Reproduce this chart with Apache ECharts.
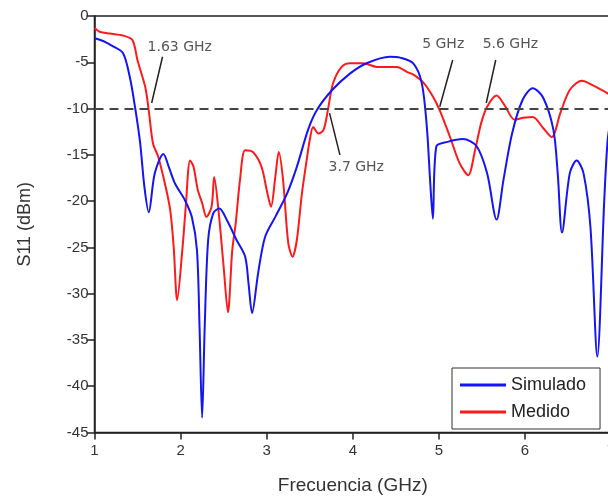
<!DOCTYPE html>
<html>
<head>
<meta charset="utf-8">
<script src="https://cdn.jsdelivr.net/npm/echarts@6/dist/echarts.min.js"></script>
<style>
  html, body { margin: 0; padding: 0; background: #fff; }
  #chart { width: 608px; height: 496px; }
</style>
</head>
<body>
<div id="chart"></div>
<script>
// Return loss S11 of the antenna: simulated vs measured, frequency in GHz
const simulado = [
  [1.0,-2.4],[1.1,-2.7],[1.2,-3.2],[1.33,-4.0],[1.41,-6.6],[1.47,-9.8],[1.53,-13.7],
  [1.58,-18.5],[1.63,-21.2],[1.70,-17.0],[1.80,-14.9],[1.87,-16.5],[1.935,-18.1],
  [2.05,-19.9],[2.13,-21.7],[2.19,-25.3],[2.22,-33.6],[2.25,-43.4],[2.28,-33.6],
  [2.32,-24.2],[2.38,-21.3],[2.45,-20.8],[2.54,-22.1],[2.65,-24.2],[2.75,-26.0],
  [2.79,-29.0],[2.83,-32.1],[2.90,-27.8],[2.98,-23.9],[3.10,-21.7],[3.24,-19.1],
  [3.35,-16.3],[3.48,-12.3],[3.58,-10.2],[3.76,-8.0],[3.97,-6.2],[4.16,-5.1],
  [4.43,-4.4],[4.55,-4.5],[4.70,-5.1],[4.80,-7.2],[4.86,-12.0],[4.90,-18.1],
  [4.93,-21.9],[4.97,-14.1],[5.10,-13.6],[5.28,-13.3],[5.44,-14.1],[5.56,-17.0],
  [5.67,-22.0],[5.75,-17.7],[5.85,-12.7],[5.97,-9.1],[6.09,-7.8],[6.21,-8.8],
  [6.33,-12.3],[6.38,-17.0],[6.43,-23.4],[6.52,-17.0],[6.60,-15.6],[6.68,-17.0],
  [6.76,-22.8],[6.84,-36.8],[6.92,-20.0],[6.96,-13.4],[7.0,-11.0]
];

const medido = [
  [1.0,-1.3],[1.06,-1.7],[1.18,-1.9],[1.33,-2.1],[1.44,-2.6],[1.50,-4.8],[1.59,-7.7],
  [1.63,-10.2],[1.68,-13.8],[1.74,-15.2],[1.82,-18.2],[1.88,-21.0],[1.92,-25.0],
  [1.96,-30.7],[2.02,-25.3],[2.06,-20.6],[2.11,-15.6],[2.15,-16.3],[2.20,-18.8],
  [2.25,-20.2],[2.30,-21.7],[2.36,-20.6],[2.39,-17.4],[2.44,-21.0],[2.50,-27.1],
  [2.55,-32.0],[2.60,-25.3],[2.64,-22.4],[2.69,-17.7],[2.75,-14.5],[2.84,-14.7],
  [2.94,-16.3],[3.00,-18.8],[3.05,-20.6],[3.10,-17.4],[3.14,-14.7],[3.19,-17.7],
  [3.25,-24.5],[3.30,-26.0],[3.35,-24.2],[3.41,-19.1],[3.47,-15.2],[3.50,-13.4],
  [3.54,-12.0],[3.60,-12.7],[3.66,-12.3],[3.71,-10.2],[3.77,-7.3],[3.87,-5.5],
  [3.97,-5.1],[4.12,-5.1],[4.28,-5.5],[4.51,-5.5],[4.64,-6.1],[4.70,-6.3],
  [4.82,-7.2],[4.93,-8.7],[5.01,-10.2],[5.13,-13.1],[5.24,-15.9],[5.34,-17.2],
  [5.42,-14.5],[5.49,-11.6],[5.56,-9.8],[5.67,-8.6],[5.76,-9.6],[5.88,-11.2],
  [5.98,-11.0],[6.09,-10.9],[6.21,-12.1],[6.31,-13.1],[6.41,-10.5],[6.52,-8.0],
  [6.66,-7.0],[6.79,-7.5],[6.95,-8.3],[7.0,-8.6]
];

const umbral = -10;

// Annotated -10 dB crossings: text anchor and leader line ends, in axis units
const anotaciones = [
  { texto: '1.63 GHz', texto_xy: [1.99, -3.35], linea: [[1.664, -9.4], [1.79, -4.4]] },
  { texto: '3.7 GHz',  texto_xy: [4.04, -16.4], linea: [[3.73, -10.5], [3.85, -15.0]] },
  { texto: '5 GHz',    texto_xy: [5.05, -3.1],  linea: [[5.01, -9.8], [5.16, -4.75]] },
  { texto: '5.6 GHz',  texto_xy: [5.83, -3.1],  linea: [[5.55, -9.4], [5.66, -4.75]] }
];

const xTicks = { min: 1, max: 7, interval: 1 };
const yTicks = { min: -45, max: 0, interval: 5 };

const chart = echarts.init(document.getElementById('chart'), null, { renderer: 'canvas' });

const axisFont = { fontFamily: 'Liberation Sans, Arial, sans-serif', color: '#333' };

const series = [
  {
    name: 'Simulado', type: 'line', data: simulado, showSymbol: false, smooth: 0.3,
    lineStyle: { color: '#1414f5', width: 2 }, itemStyle: { color: '#1414f5' }, z: 3
  },
  {
    name: 'Medido', type: 'line', data: medido, showSymbol: false, smooth: 0.3,
    lineStyle: { color: '#ff1a1a', width: 2 }, itemStyle: { color: '#ff1a1a' }, z: 2,
    markLine: {
      silent: true, symbol: 'none', label: { show: false },
      lineStyle: { color: '#444', type: [9, 6], width: 2 },
      data: [{ yAxis: umbral }]
    }
  }
];

anotaciones.forEach((a) => {
  series.push({
    type: 'line', data: a.linea, showSymbol: false, silent: true,
    lineStyle: { color: '#222', width: 1.5 }, z: 4
  });
  series.push({
    type: 'scatter', data: [a.texto_xy], symbolSize: 0, silent: true, z: 5,
    label: {
      show: true, position: 'inside', formatter: a.texto,
      fontFamily: 'DejaVu Sans, Verdana, sans-serif', fontSize: 14, color: '#2a2a2a'
    }
  });
});

chart.setOption({
  animation: false,
  backgroundColor: '#fff',
  grid: {
    left: 94.5, top: 16, width: 516.6, height: 416.5,
    outerBoundsMode: 'none', containLabel: false,
    show: true, borderColor: '#222', borderWidth: 1.5, backgroundColor: 'transparent'
  },
  legend: {
    data: [
      { name: 'Simulado', icon: 'rect' },
      { name: 'Medido', icon: 'rect' }
    ],
    orient: 'vertical', left: 452, top: 368,
    itemWidth: 46, itemHeight: 3, itemGap: 9,
    padding: [8, 14, 8, 8],
    borderColor: '#333', borderWidth: 1, backgroundColor: '#fff',
    textStyle: { fontFamily: 'Liberation Sans, Arial, sans-serif', fontSize: 18, color: '#222' }
  },
  xAxis: {
    type: 'value', min: xTicks.min, max: xTicks.max, interval: xTicks.interval,
    name: 'Frecuencia (GHz)', nameLocation: 'middle', nameGap: 44,
    nameTextStyle: Object.assign({ fontSize: 19 }, axisFont),
    axisLine: { onZero: false, lineStyle: { color: '#222', width: 1.5 } },
    axisTick: { inside: false, length: 7, lineStyle: { color: '#222', width: 1.5 } },
    axisLabel: Object.assign({ fontSize: 15, margin: 11, showMaxLabel: true, hideOverlap: false }, axisFont),
    splitLine: { show: false }
  },
  yAxis: {
    type: 'value', min: yTicks.min, max: yTicks.max, interval: yTicks.interval,
    name: 'S11 (dBm)', nameLocation: 'middle', nameGap: 60, nameRotate: 90,
    nameTextStyle: Object.assign({ fontSize: 18 }, axisFont),
    axisLine: { onZero: false, lineStyle: { color: '#222', width: 1.5 } },
    axisTick: { inside: false, length: 8, lineStyle: { color: '#222', width: 1.5 } },
    axisLabel: Object.assign({ fontSize: 15, margin: 6 }, axisFont),
    splitLine: { show: false }
  },
  series: series
});
</script>
</body>
</html>
